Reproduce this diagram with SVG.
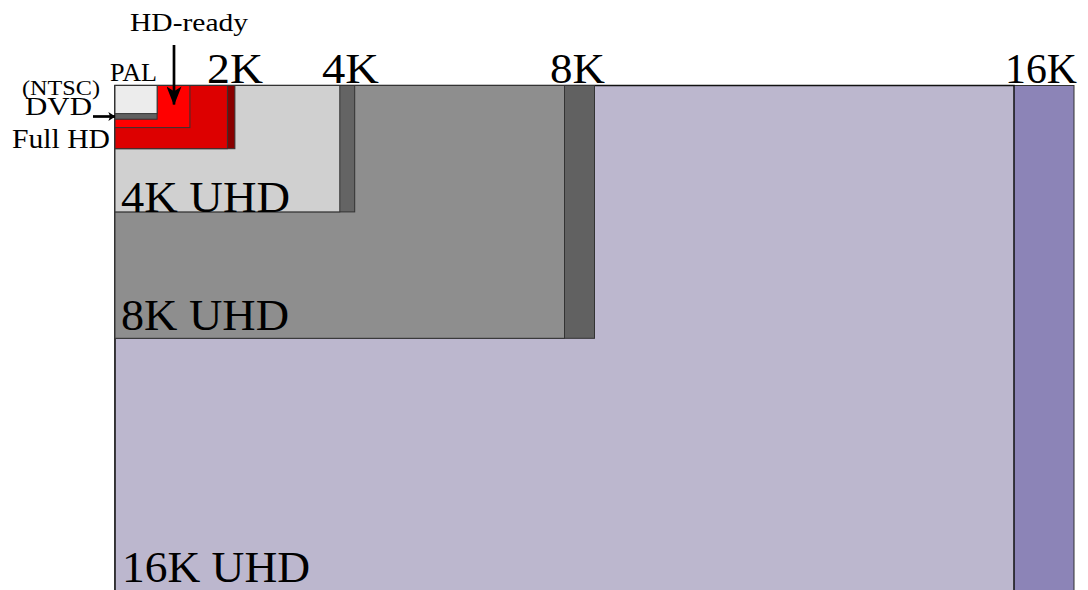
<svg xmlns="http://www.w3.org/2000/svg" width="1088" height="590" viewBox="0 0 1088 590">
<style>
rect{stroke:#333;stroke-width:1}
text{font-family:"Liberation Serif","Times New Roman",Tinos,serif;fill:#000}
.big{font-size:43px}
.mid{font-size:45px}
.arr{stroke:#000;stroke-width:2.7;fill:none}
</style>
<defs>
<marker id="ah" viewBox="0 0 10 10" refX="9.5" refY="5" markerWidth="19" markerHeight="15" markerUnits="userSpaceOnUse" orient="auto" preserveAspectRatio="none">
<path d="M0,0 L10,5 L0,10 L2.5,5 z" fill="#000"/>
</marker>
<marker id="ahs" viewBox="0 0 10 10" refX="9.5" refY="5" markerWidth="7" markerHeight="9" markerUnits="userSpaceOnUse" orient="auto" preserveAspectRatio="none">
<path d="M0,0 L10,5 L0,10 L2.5,5 z" fill="#000"/>
</marker>
</defs>
<rect width="1088" height="590" fill="#fff" style="stroke:none"/>
<g id="r16k-strip"><rect x="115" y="85.5" width="959" height="506" fill="#8c84b7"/></g>
<g id="r16k-uhd"><rect x="115" y="85.5" width="899" height="506" fill="#bcb7ce" style="stroke:#111;stroke-width:1.5"/></g>
<g id="r8k-strip"><rect x="115" y="85.5" width="479.5" height="252.8" fill="#616161"/></g>
<g id="r8k-uhd"><rect x="115" y="85.5" width="449.5" height="252.8" fill="#8e8e8e"/></g>
<g id="r4k-strip"><rect x="115" y="85.5" width="239.7" height="126.4" fill="#646464"/></g>
<g id="r4k-uhd"><rect x="115" y="85.5" width="224.8" height="126.4" fill="#d0d0d0"/></g>
<g id="r2k"><rect x="115" y="85.5" width="119.9" height="63.2" fill="#880000"/></g>
<g id="rfullhd"><rect x="115" y="85.5" width="112.4" height="63.2" fill="#dd0000"/></g>
<g id="rhdready"><rect x="115" y="85.5" width="74.9" height="42.1" fill="#ff0000"/></g>
<g id="rpal"><rect x="115" y="85.5" width="42.1" height="33.7" fill="#606060"/></g>
<g id="rntsc"><rect x="115" y="85.5" width="42.1" height="28.1" fill="#ececec"/></g>

<g id="labels">
<text class="big" x="207" y="83" textLength="56" lengthAdjust="spacingAndGlyphs">2K</text>
<text class="big" x="322" y="83" textLength="57" lengthAdjust="spacingAndGlyphs">4K</text>
<text class="big" x="550" y="83" textLength="55" lengthAdjust="spacingAndGlyphs">8K</text>
<text class="big" x="1005" y="83" textLength="72" lengthAdjust="spacingAndGlyphs">16K</text>
<text class="mid" x="121" y="212" textLength="169" lengthAdjust="spacingAndGlyphs">4K UHD</text>
<text class="mid" x="121" y="330" textLength="168" lengthAdjust="spacingAndGlyphs">8K UHD</text>
<text class="mid" x="122" y="582" textLength="188" lengthAdjust="spacingAndGlyphs">16K UHD</text>
<text x="130" y="31" font-size="26" textLength="118" lengthAdjust="spacingAndGlyphs">HD-ready</text>
<text x="110" y="81" font-size="25" textLength="47" lengthAdjust="spacingAndGlyphs">PAL</text>
<text x="22" y="95" font-size="21" textLength="78" lengthAdjust="spacingAndGlyphs">(NTSC)</text>
<text x="25" y="115" font-size="26" textLength="67" lengthAdjust="spacingAndGlyphs">DVD</text>
<text x="12" y="148" font-size="27" textLength="98" lengthAdjust="spacingAndGlyphs">Full HD</text>
</g>

<g id="connectors">
<line class="arr" x1="174" y1="45" x2="174" y2="104.5" marker-end="url(#ah)"/>
<line class="arr" x1="93" y1="116.5" x2="115" y2="116.5" marker-end="url(#ahs)"/>
</g>
</svg>
